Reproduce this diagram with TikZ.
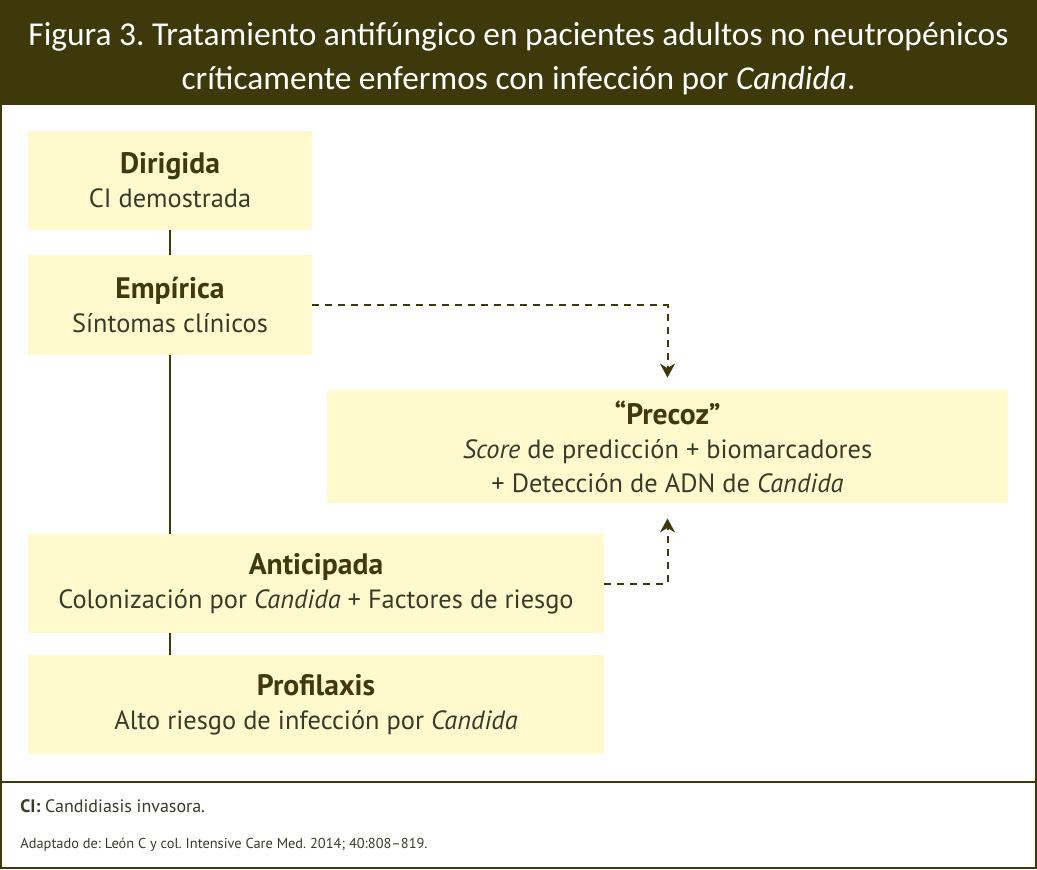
\documentclass[tikz,border=0pt]{standalone}
\usepackage{fontspec}
\setmainfont{PT Sans}
\newfontfamily\titlefont{Carlito}
\usetikzlibrary{positioning,arrows.meta}
\definecolor{darkolive}{HTML}{3D390B}
\definecolor{boxfill}{HTML}{FFF9CE}
\definecolor{headtxt}{HTML}{3D3A0C}
\definecolor{bodytxt}{HTML}{3A3A2A}
\frenchspacing

\begin{document}
\begin{tikzpicture}[x=0.5pt,y=-0.5pt,>={Stealth[length=7pt,width=7.5pt]},
  box/.style={fill=boxfill,inner sep=0pt,align=center,text=bodytxt,font=\fontsize{13.2}{17}\selectfont},
  conn/.style={draw=darkolive,line width=1pt},
  dashconn/.style={draw=darkolive,line width=1pt,dash pattern=on 3.5pt off 3pt}]
\useasboundingbox (0,0) rectangle (1037,869);
\fill[darkolive] (0,0) rectangle (1037,105);
\draw[conn] (1,105) -- (1,868) -- (1036,868) -- (1036,105);
\draw[conn] (1,782) -- (1036,782);
\node[text=white,align=center,font=\titlefont\fontsize{16.7}{22}\selectfont] (title) at (518.5,59)
  {Figura 3. Tratamiento antifúngico en pacientes adultos no neutropénicos\\críticamente enfermos con infección por \textit{Candida}.};
\node[box,minimum width=142pt,minimum height=49.5pt] (dir) at (170,180.5)
  {{\fontsize{14.8}{17}\selectfont\bfseries\color{headtxt}Dirigida}\\CI demostrada};
\node[box,minimum width=142pt,minimum height=50pt] (emp) at (170,305)
  {{\fontsize{14.8}{17}\selectfont\bfseries\color{headtxt}Empírica}\\Síntomas clínicos};
\node[box,minimum width=340.5pt,minimum height=56.5pt] (pre) at (667.5,446.5)
  {{\fontsize{14.8}{17}\selectfont\bfseries\color{headtxt}“Precoz”}\\\textit{Score} de predicción + biomarcadores\\+ Detección de ADN de \textit{Candida}};
\node[box,minimum width=288pt,minimum height=49.5pt] (anti) at (316,583.5)
  {{\fontsize{14.8}{17}\selectfont\bfseries\color{headtxt}Anticipada}\\Colonización por \textit{Candida} + Factores de riesgo};
\node[box,minimum width=288pt,minimum height=49.5pt] (pro) at (316,704.5)
  {{\fontsize{14.8}{17}\selectfont\bfseries\color{headtxt}Profilaxis}\\Alto riesgo de infección por \textit{Candida}};
\draw[conn] (dir) -- (emp);
\draw[conn] (emp.south) -- (emp.south |- anti.north);
\draw[conn] (emp.south |- anti.south) -- (emp.south |- pro.north);
\draw[dashconn,->] (emp.east) -| ([yshift=6pt]pre.north);
\draw[dashconn,->] (anti.east) -| ([yshift=-7.5pt]pre.south);
\node[anchor=west,inner sep=0pt,text=bodytxt,font=\fontsize{9}{10}\selectfont] (ci) at (20,806) {\textbf{CI:} Candidiasis invasora.};
\node[anchor=west,inner sep=0pt,text=bodytxt,font=\fontsize{7.2}{8}\selectfont] (src) at (20,845) {Adaptado de: León C y col. Intensive Care Med. 2014; 40:808–819.};
\end{tikzpicture}
\end{document}
